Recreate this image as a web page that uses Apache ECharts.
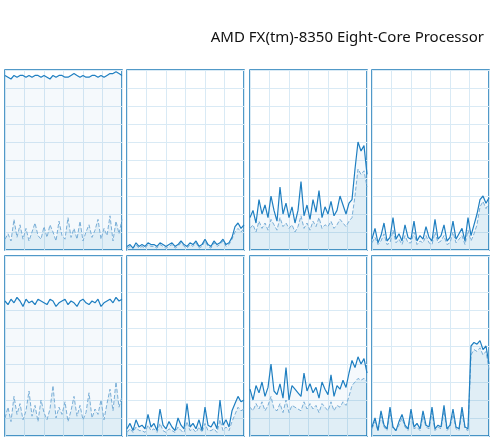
<!DOCTYPE html>
<html><head><meta charset="utf-8">
<script src="https://cdn.jsdelivr.net/npm/echarts@6/dist/echarts.min.js"></script>
<style>html,body{margin:0;padding:0;background:#fff}#c{width:497px;height:442px}</style>
</head><body><div id="c"></div>
<script>
const title = "AMD FX(tm)-8350 Eight-Core Processor";
const total1 = [97,96,95,97,96,97,97,96,97,96,97,97,96,97,96,95,97,96,97,97,96,96,97,98,97,96,97,96,96,97,97,96,97,96,97,98,98,99,98,97];
const kern1  = [6,9,5,17,7,14,6,12,5,10,15,8,6,13,7,14,10,5,16,8,6,18,7,12,6,16,5,10,14,7,11,17,6,12,8,19,5,16,9,17];
const total2 = [2,3,1,4,2,3,2,4,3,3,2,4,3,2,3,4,2,3,5,3,2,4,3,5,2,3,6,3,2,5,3,4,6,3,4,7,13,15,12,14];
const kern2  = [1,2,1,3,1,2,1,3,2,2,1,3,2,1,2,3,1,2,4,2,1,3,2,4,1,2,5,2,1,4,2,3,5,2,3,6,10,12,10,12];
const total3 = [18,22,15,28,20,25,18,30,22,16,35,20,26,18,24,15,22,38,19,25,17,28,21,33,18,24,20,27,19,22,30,25,20,26,28,45,60,55,58,42];
const kern3  = [12,14,10,16,12,15,11,17,14,11,18,13,15,12,14,10,13,19,12,15,11,16,13,18,12,14,13,16,12,14,17,15,13,16,18,30,45,42,44,35];
const total4 = [6,12,4,8,15,5,7,18,6,9,5,14,7,6,16,5,8,6,13,7,5,17,6,8,14,5,7,16,6,9,12,5,18,8,14,20,28,30,26,29];
const kern4  = [4,7,3,5,9,3,4,11,4,6,3,8,4,4,10,3,5,4,8,4,3,10,4,5,8,3,4,10,4,6,8,3,11,5,9,14,24,27,23,26];
const total5 = [75,73,76,74,77,75,72,76,74,75,73,76,75,74,73,76,75,72,74,75,76,73,75,74,72,75,76,74,73,75,74,76,72,74,75,76,74,77,75,76];
const kern5  = [10,16,8,22,12,18,9,14,25,11,17,8,20,13,9,15,28,10,16,12,19,8,14,22,11,17,9,13,24,10,15,12,20,9,18,26,14,30,16,22];
const total6 = [4,7,3,9,5,6,4,12,5,7,3,15,6,4,8,5,3,10,6,4,18,5,7,4,9,3,16,6,5,8,4,20,6,9,5,14,18,22,19,20];
const kern6  = [2,4,2,5,3,3,2,6,3,4,2,7,3,2,4,3,2,5,3,2,8,3,4,2,5,2,7,3,3,4,2,9,3,5,3,8,12,16,14,15];
const total7 = [26,20,28,24,30,22,27,40,25,23,29,21,38,20,28,26,24,22,35,25,29,24,27,21,30,26,23,34,22,28,26,31,27,35,42,38,44,40,43,35];
const kern7  = [16,14,18,15,19,14,17,22,15,14,18,13,20,13,17,16,15,14,19,15,18,15,17,13,18,16,14,19,14,17,16,19,17,22,28,30,32,31,32,30];
const total8 = [5,10,3,14,6,4,16,5,3,8,12,6,4,15,5,7,4,14,6,5,16,4,6,5,17,4,6,15,5,4,16,5,4,50,52,51,53,48,50,40];
const kern8  = [4,8,3,11,5,3,13,4,3,6,10,5,3,12,4,5,3,11,5,4,13,3,5,4,14,3,5,12,4,3,13,4,3,45,48,47,49,45,47,37];

const totals=[total1,total2,total3,total4,total5,total6,total7,total8];
const kerns=[kern1,kern2,kern3,kern4,kern5,kern6,kern7,kern8];
const lefts=[5,127,250,372], tops=[70,256], W=117, H=180;
const grid=[],xAxis=[],yAxis=[],series=[];
const toPts=a=>a.map((v,i)=>[i*60/(a.length-1),v]);
for(let k=0;k<8;k++){
  const col=k%4,row=Math.floor(k/4);
  grid.push({left:lefts[col],top:tops[row],width:W,height:H,show:true,
    borderColor:'#1878b6',borderWidth:1.5,backgroundColor:'#fff'});
  xAxis.push({type:'value',gridIndex:k,min:0,max:60,interval:10,axisLabel:{show:false},axisTick:{show:false},axisLine:{show:false},
    splitLine:{lineStyle:{color:'#d9eaf5',width:1}}});
  yAxis.push({type:'value',gridIndex:k,min:0,max:100,interval:10,axisLabel:{show:false},axisTick:{show:false},axisLine:{show:false},
    splitLine:{lineStyle:{color:'#d9eaf5',width:1}}});
  series.push({type:'line',xAxisIndex:k,yAxisIndex:k,data:toPts(totals[k]),symbol:'none',
    lineStyle:{color:'#1f7fc1',width:1.2},areaStyle:{color:'rgba(17,125,187,0.06)'},z:3});
  series.push({type:'line',xAxisIndex:k,yAxisIndex:k,data:toPts(kerns[k]),symbol:'none',
    lineStyle:{color:'#7fb2d9',width:1,type:'dashed'},areaStyle:{color:'rgba(17,125,187,0.12)'},z:2});
}
const chart=echarts.init(document.getElementById('c'),null,{renderer:'canvas'});
chart.setOption({animation:false,
  title:{text:title,right:8,top:25,textStyle:{fontFamily:'Noto Sans',fontSize:15,fontWeight:'normal',color:'#111'}},
  grid,xAxis,yAxis,series});
</script></body></html>
